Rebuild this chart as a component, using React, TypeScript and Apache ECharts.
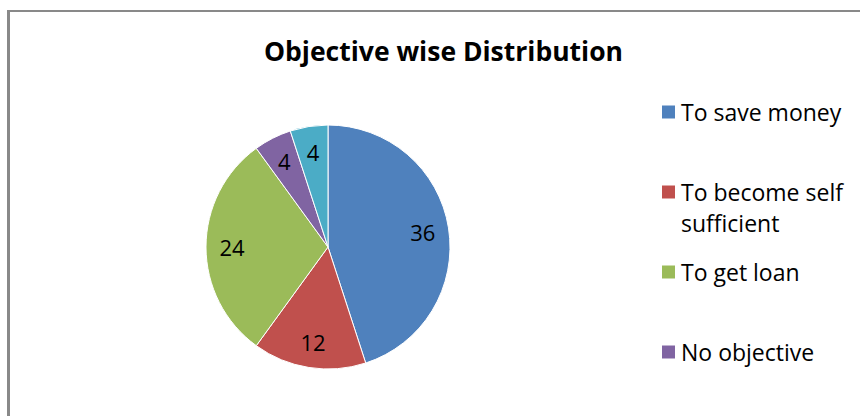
import React, { useEffect, useRef } from "react";
import * as echarts from "echarts";

const titleText = "Objective wise Distribution";
const categories = [
  "To save money",
  "To become self sufficient",
  "To get loan",
  "No objective",
  "Others",
];
const values = [36, 12, 24, 4, 4];
const colors = ["#4F81BD", "#C0504D", "#9BBB59", "#8064A2", "#4BACC6"];
// Only the first four legend entries fit inside the visible chart area
const legendVisible = categories.slice(0, 4);
const legendLines: Record<string, string> = {
  "To become self sufficient": "To become self\nsufficient",
};

export default function App() {
  const ref = useRef<HTMLDivElement>(null);
  useEffect(() => {
    if (!ref.current) return;
    const chart = echarts.init(ref.current, null, { renderer: "svg" });
    const data = categories.map((name, i) => ({
      name,
      value: values[i],
      itemStyle: { color: colors[i] },
    }));
    const font = "'Open Sans', sans-serif";
    chart.setOption({
      animation: false,
      backgroundColor: "#ffffff",
      title: {
        text: titleText,
        left: 264,
        top: 37,
        padding: 0,
        textStyle: {
          fontFamily: font,
          fontWeight: "bold",
          fontSize: 26.5,
          color: "#000",
        },
      },
      legend: {
        orient: "vertical",
        left: 660,
        top: 65.5,
        padding: 0,
        itemWidth: 15,
        itemHeight: 15,
        itemGap: -13,
        icon: "rect",
        selectedMode: false,
        data: legendVisible,
        formatter: (name: string) => "\n" + (legendLines[name] ?? name + "\n"),
        textStyle: {
          fontFamily: font,
          fontSize: 23,
          lineHeight: 31,
          color: "#000",
        },
      },
      graphic: [
        {
          type: "line",
          shape: { x1: 8.5, y1: 10, x2: 8.5, y2: 416 },
          style: { stroke: "#898989", lineWidth: 3 },
          silent: true,
        },
        {
          type: "line",
          shape: { x1: 7, y1: 11, x2: 860, y2: 11 },
          style: { stroke: "#898989", lineWidth: 2 },
          silent: true,
        },
      ],
      series: [
        {
          type: "pie",
          center: [328, 247],
          radius: [0, 122],
          startAngle: 90,
          clockwise: true,
          silent: true,
          label: { show: false },
          labelLine: { show: false },
          itemStyle: { borderColor: "#ffffff", borderWidth: 1 },
          data,
        },
        {
          type: "pie",
          center: [328, 247],
          radius: [64, 122],
          startAngle: 90,
          clockwise: true,
          silent: true,
          legendHoverLink: false,
          itemStyle: { color: "rgba(0,0,0,0)", borderWidth: 0 },
          label: {
            show: true,
            position: "inside",
            formatter: "{c}",
            fontFamily: font,
            fontSize: 22,
            color: "#000",
          },
          labelLine: { show: false },
          data: categories.map((name, i) => ({ name, value: values[i] })),
        },
      ],
    });
    return () => chart.dispose();
  }, []);
  return (
    <div
      ref={ref}
      style={{ position: "fixed", left: 0, top: 0, width: 860, height: 416 }}
    />
  );
}
